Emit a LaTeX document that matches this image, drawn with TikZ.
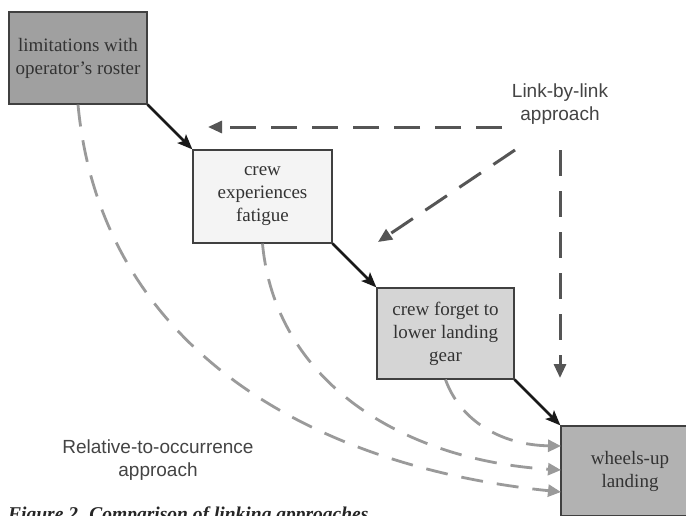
\documentclass[tikz,border=0pt]{standalone}
\usepackage{fontspec}
\setmainfont{Liberation Serif}
\newfontfamily\labelsans{Liberation Sans}
\usetikzlibrary{arrows.meta}
\definecolor{boxtext}{HTML}{333333}
\definecolor{fillA}{HTML}{A0A0A0}
\definecolor{fillB}{HTML}{F4F4F4}
\definecolor{fillC}{HTML}{D5D5D5}
\definecolor{fillD}{HTML}{B2B2B2}
\definecolor{linkgray}{HTML}{555555}
\definecolor{relgray}{HTML}{9A9A9A}
\definecolor{labelgray}{HTML}{444444}
\tikzset{
  evbox/.style={draw=black!75, line width=1.2pt, rectangle, align=center,
    text=boxtext, font=\fontsize{19}{23}\selectfont, inner sep=0pt},
  chainarrow/.style={draw=black!90, line width=2.6pt,
    -{Stealth[length=15pt,width=12pt,inset=3pt]}},
  linkarrow/.style={draw=linkgray, line width=3pt, dash pattern=on 26pt off 15pt,
    -{Triangle[length=14pt,width=12pt]}},
  relarrow/.style={draw=relgray, line width=2.8pt, dash pattern=on 22pt off 14pt,
    -{Triangle[length=13pt,width=12pt]}},
  approachlabel/.style={align=center, text=labelgray,
    font=\labelsans\fontsize{19}{23}\selectfont, inner sep=0pt},
}
\begin{document}
\begin{tikzpicture}[x=1pt,y=-1pt]
\useasboundingbox (0,0) rectangle (686,515);
\clip (0,0) rectangle (686,515);
\fill[white] (0,0) rectangle (686,515);

% event boxes
\node[evbox, fill=fillA, minimum width=138pt, minimum height=92pt] (b1) at (78,58)
  {limitations with\\operator’s roster};
\node[evbox, fill=fillB, minimum width=139pt, minimum height=93pt] (b2) at (262.5,196.5)
  {crew\\experiences\\fatigue};
\node[evbox, fill=fillC, minimum width=137pt, minimum height=91pt] (b3) at (445.5,333.5)
  {crew forget to\\lower landing\\gear};
\node[evbox, fill=fillD, minimum width=138pt, minimum height=90pt] (b4) at (630,471)
  {wheels-up\\landing};

% labels
\node[approachlabel] (lbl) at (560,104) {Link-by-link\\approach};
\node[approachlabel] (rel) at (158,460) {Relative-to-occurrence\\approach};

% caption (cut by the frame, as in the reference)
\node[anchor=base west, inner sep=0pt, text=black!85,
  font=\bfseries\itshape\fontsize{19.5}{23}\selectfont] (cap) at (8,520)
  {Figure 2. Comparison of linking approaches};

% chain arrows
\draw[chainarrow] (b1.south east) -- (b2.north west);
\draw[chainarrow] (b2.south east) -- (b3.north west);
\draw[chainarrow] (b3.south east) -- (b4.north west);

% link-by-link arrows
\coordinate (h0) at (502,127);
\coordinate (h1) at (208,127);
\coordinate (d0) at (515,150);
\coordinate (d1) at (378,242);
\coordinate (v0) at (560,150);
\coordinate (v1) at (560,378);
\draw[linkarrow] (h0) -- (h1);
\draw[linkarrow] (d0) -- (d1);
\draw[linkarrow] (v0) -- (v1);

% relative-to-occurrence arrows
\coordinate (e1) at (561,492);
\coordinate (e2) at (561,470);
\coordinate (e3) at (561,446);
\draw[relarrow] (b1.south) .. controls (100,340) and (300,465) .. (e1);
\draw[relarrow] (b2.south) .. controls (275,380) and (400,460) .. (e2);
\draw[relarrow] (b3.south) .. controls (460,420) and (500,445) .. (e3);
\end{tikzpicture}
\end{document}
